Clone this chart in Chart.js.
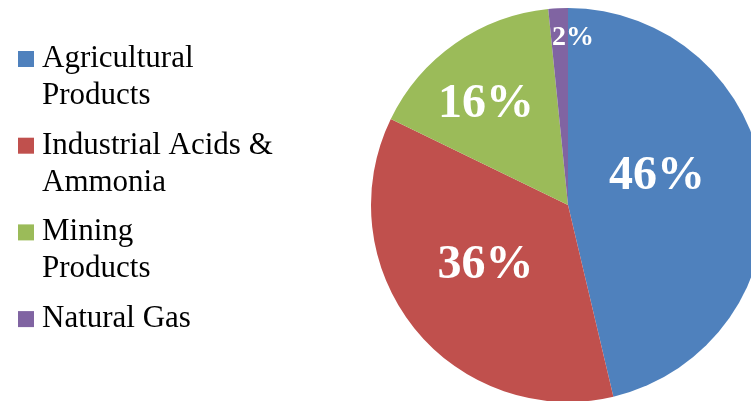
<!DOCTYPE html>
<html lang="en">
<head>
    <meta charset="UTF-8">
    <title>Pie Chart</title>
    <script src="https://cdn.jsdelivr.net/npm/chart.js"></script>
    <style>
        html, body {
            margin: 0;
            padding: 0;
            width: 751px;
            height: 401px;
            overflow: hidden;
            background: #fff;
        }

        .chart-box {
            position: absolute;
            left: 0;
            top: 0;
            width: 800px;
            height: 410px;
        }
    </style>
</head>
<body>
    <div class="chart-box"><canvas id="pieChart"></canvas></div>

    <script>
        // Data
        const categories = [
            ['Agricultural', 'Products'],
            ['Industrial Acids &', 'Ammonia'],
            ['Mining', 'Products'],
            ['Natural Gas']
        ];
        const shares = [46.3, 35.9, 16.2, 1.6];
        const shareLabels = ['46%', '36%', '16%', '2%'];
        const colors = ['#4F81BD', '#C0504D', '#9BBB59', '#8064A2'];

        const SERIF = '"Times New Roman", "Liberation Serif", serif';

        // Label placement (angle shift in degrees, radius fraction, font size)
        const labelStyle = [
            { shift: -13, r: 0.48, size: 48 },
            { shift: 4, r: 0.51, size: 48 },
            { shift: -3.5, r: 0.67, size: 48 },
            { shift: 4.6, r: 0.86, size: 28 }
        ];

        // Percent labels on slices
        const sliceLabels = {
            id: 'sliceLabels',
            afterDatasetsDraw(chart) {
                const ctx = chart.ctx;
                const meta = chart.getDatasetMeta(0);
                ctx.save();
                ctx.fillStyle = '#fff';
                ctx.textAlign = 'center';
                ctx.textBaseline = 'alphabetic';
                meta.data.forEach((arc, i) => {
                    const st = labelStyle[i];
                    const mid = (arc.startAngle + arc.endAngle) / 2 + st.shift * Math.PI / 180;
                    const dist = arc.outerRadius * st.r;
                    const x = arc.x + Math.cos(mid) * dist;
                    const y = arc.y + Math.sin(mid) * dist;
                    ctx.font = 'bold ' + st.size + 'px ' + SERIF;
                    ctx.fillText(shareLabels[i], x, y + st.size * 0.33);
                });
                ctx.restore();
            }
        };

        // Legend on the left, drawn on the canvas
        const sideLegend = {
            id: 'sideLegend',
            afterDraw(chart) {
                const ctx = chart.ctx;
                const left = 18, firstBaseline = 67, step = 86.7, lineH = 37, box = 16;
                ctx.save();
                ctx.font = '31px ' + SERIF;
                ctx.textAlign = 'left';
                ctx.textBaseline = 'alphabetic';
                categories.forEach((lines, i) => {
                    const base = firstBaseline + i * step;
                    ctx.fillStyle = colors[i];
                    ctx.fillRect(left, base - box, box, box);
                    ctx.fillStyle = '#000';
                    lines.forEach((t, j) => ctx.fillText(t, left + 24, base + j * lineH));
                });
                ctx.restore();
            }
        };

        new Chart(document.getElementById('pieChart'), {
            type: 'pie',
            data: {
                labels: categories,
                datasets: [{
                    data: shares,
                    backgroundColor: colors,
                    borderWidth: 0
                }]
            },
            options: {
                responsive: true,
                maintainAspectRatio: false,
                animation: false,
                layout: { padding: { left: 371, top: 8, right: 35, bottom: 8 } },
                plugins: {
                    legend: { display: false },
                    tooltip: { enabled: false }
                }
            },
            plugins: [sliceLabels, sideLegend]
        });
    </script>
</body>
</html>
